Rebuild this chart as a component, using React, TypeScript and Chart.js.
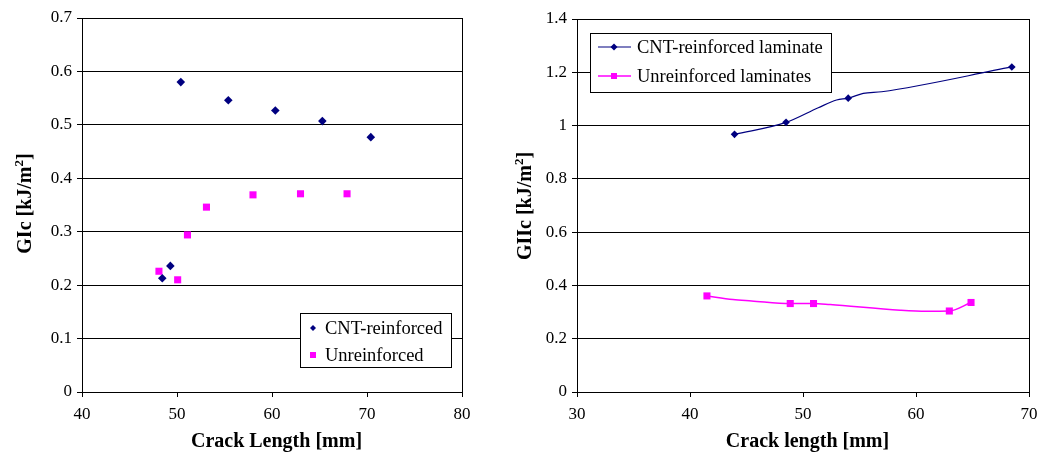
import React, { useEffect, useRef } from "react";
import { Chart, registerables } from "chart.js";

Chart.register(...registerables);

const FONT = "'Liberation Serif', 'Times New Roman', Times, serif";
const NAVY = "#000080";
const MAGENTA = "#FF00FF";

// Left chart (Mode I)
const leftCntLabel = "CNT-reinforced";
const leftCntX = [50.4, 55.4, 60.35, 65.3, 70.4, 49.3, 48.45];
const leftCntY = [0.58, 0.546, 0.527, 0.507, 0.477, 0.236, 0.213];
const leftUnrLabel = "Unreinforced";
const leftUnrX = [48.1, 50.07, 51.1, 53.1, 58.0, 63.0, 67.9];
const leftUnrY = [0.226, 0.21, 0.294, 0.346, 0.369, 0.371, 0.371];
const leftXTitle = "Crack Length [mm]";
const leftYTitle = ["GIc [kJ/m", "2", "]"];

// Right chart (Mode II)
const rightCntLabel = "CNT-reinforced laminate";
const rightCntX = [43.94, 48.5, 54.0, 68.48];
const rightCntY = [0.967, 1.012, 1.103, 1.22];
const rightCntCurveX = [43.94, 48.5, 51.35, 52.97, 54.0, 55.33, 56.96, 68.48];
const rightCntCurveY = [0.967, 1.012, 1.067, 1.096, 1.103, 1.121, 1.127, 1.22];
const rightUnrLabel = "Unreinforced laminates";
const rightUnrX = [41.5, 48.87, 50.93, 62.95, 64.87];
const rightUnrY = [0.3606, 0.332, 0.332, 0.304, 0.336];
const rightUnrCurveX = [41.5, 43.8, 45.45, 48.87, 50.93, 52.4, 58.6, 60.9, 62.95, 64.87];
const rightUnrCurveY = [0.3606, 0.347, 0.342, 0.332, 0.332, 0.328, 0.307, 0.303, 0.304, 0.336];
const rightXTitle = "Crack length [mm]";
const rightYTitle = ["GIIc [kJ/m", "2", "]"];

const pts = (xs: number[], ys: number[]) => xs.map((x, i) => ({ x, y: ys[i] }));

const fmt = (v: any) => String(Math.round(Number(v) * 10) / 10);

const framePlugin = {
  id: "frame",
  beforeDatasetsDraw(chart: any) {
    const { ctx, chartArea } = chart;
    const l = Math.round(chartArea.left) + 0.5;
    const t = Math.round(chartArea.top) + 0.5;
    const r = Math.round(chartArea.right) + 0.5;
    const b = Math.round(chartArea.bottom) + 0.5;
    ctx.save();
    ctx.strokeStyle = "#000";
    ctx.lineWidth = 1;
    ctx.strokeRect(l, t, r - l, b - t);
    ctx.restore();
  },
};

function titlesPlugin(xTitle: string, xCenter: number, xBaseline: number, yParts: string[], yBaselineX: number, yCenter: number) {
  return {
    id: "axisTitles",
    afterDraw(chart: any) {
      const ctx: CanvasRenderingContext2D = chart.ctx;
      ctx.save();
      ctx.fillStyle = "#000";
      ctx.textBaseline = "alphabetic";
      ctx.font = `bold 20px ${FONT}`;
      ctx.textAlign = "center";
      ctx.fillText(xTitle, xCenter, xBaseline);

      ctx.textAlign = "left";
      const mainFont = `bold 20px ${FONT}`;
      const supFont = `bold 13px ${FONT}`;
      ctx.font = mainFont;
      const w0 = ctx.measureText(yParts[0]).width;
      const w2 = ctx.measureText(yParts[2]).width;
      ctx.font = supFont;
      const w1 = ctx.measureText(yParts[1]).width;
      const total = w0 + w1 + w2;
      ctx.translate(yBaselineX, yCenter);
      ctx.rotate(-Math.PI / 2);
      let x = -total / 2;
      ctx.font = mainFont;
      ctx.fillText(yParts[0], x, 0);
      x += w0;
      ctx.font = supFont;
      ctx.fillText(yParts[1], x, -8);
      x += w1;
      ctx.font = mainFont;
      ctx.fillText(yParts[2], x, 0);
      ctx.restore();
    },
  };
}

function drawMarker(ctx: CanvasRenderingContext2D, shape: string, x: number, y: number, r: number, color: string) {
  ctx.fillStyle = color;
  ctx.beginPath();
  if (shape === "diamond") {
    ctx.moveTo(x - r, y);
    ctx.lineTo(x, y - r);
    ctx.lineTo(x + r, y);
    ctx.lineTo(x, y + r);
    ctx.closePath();
  } else {
    ctx.rect(x - r, y - r, 2 * r, 2 * r);
  }
  ctx.fill();
}

type LegendItem = { text: string; shape: string; color: string; r: number; line: boolean; lineWidth: number };

function legendPlugin(box: { x: number; y: number; w: number; h: number }, rows: number[], markerX: number, textX: number, lineFrom: number, lineTo: number, items: LegendItem[]) {
  return {
    id: "customLegend",
    afterDraw(chart: any) {
      const ctx: CanvasRenderingContext2D = chart.ctx;
      ctx.save();
      ctx.fillStyle = "#fff";
      ctx.fillRect(box.x, box.y, box.w, box.h);
      ctx.strokeStyle = "#000";
      ctx.lineWidth = 1;
      ctx.strokeRect(box.x + 0.5, box.y + 0.5, box.w, box.h);
      items.forEach((it, i) => {
        const y = rows[i];
        if (it.line) {
          ctx.strokeStyle = it.color;
          ctx.lineWidth = it.lineWidth;
          ctx.beginPath();
          ctx.moveTo(lineFrom, y);
          ctx.lineTo(lineTo, y);
          ctx.stroke();
        }
        drawMarker(ctx, it.shape, markerX, y, it.r, it.color);
        ctx.fillStyle = "#000";
        ctx.font = `18.5px ${FONT}`;
        ctx.textBaseline = "middle";
        ctx.textAlign = "left";
        ctx.fillText(it.text, textX, y + 1);
      });
      ctx.restore();
    },
  };
}

function axisCommon(min: number, max: number, step: number, horizontal: boolean, size: number) {
  return {
    type: "linear",
    min,
    max,
    afterFit: (s: any) => {
      if (horizontal) s.height = size;
      else s.width = size;
    },
    ticks: {
      stepSize: step,
      font: { family: FONT, size: 17 },
      color: "#000",
      padding: horizontal ? 7 : 5,
      maxRotation: 0,
      autoSkip: false,
      callback: fmt,
    },
    grid: {
      drawOnChartArea: !horizontal,
      drawTicks: true,
      tickLength: 5,
      color: "#000",
      lineWidth: 1,
    },
    border: { display: true, color: "#000", width: 1 },
    title: { display: false },
  };
}

function makeLeft(canvas: HTMLCanvasElement) {
  return new Chart(canvas, {
    type: "scatter",
    data: {
      datasets: [
        {
          label: leftCntLabel,
          data: pts(leftCntX, leftCntY),
          pointStyle: "rectRot",
          pointRadius: 4.3,
          backgroundColor: NAVY,
          borderColor: NAVY,
          borderWidth: 0,
        },
        {
          label: leftUnrLabel,
          data: pts(leftUnrX, leftUnrY),
          pointStyle: "rect",
          pointRadius: 5,
          backgroundColor: MAGENTA,
          borderColor: MAGENTA,
          borderWidth: 0,
        },
      ],
    } as any,
    options: {
      responsive: false,
      animation: false,
      layout: { padding: { left: 0, right: 53, top: 18, bottom: 0 } },
      plugins: { legend: { display: false }, tooltip: { enabled: false } },
      scales: {
        x: axisCommon(40, 80, 10, true, 60),
        y: axisCommon(0, 0.7, 0.1, false, 82),
      },
    } as any,
    plugins: [
      framePlugin,
      titlesPlugin(leftXTitle, 276.5, 446.5, leftYTitle, 30.5, 203.5),
      legendPlugin({ x: 300, y: 313, w: 151, h: 54 }, [328, 355], 313, 325, 0, 0, [
        { text: leftCntLabel, shape: "diamond", color: NAVY, r: 3, line: false, lineWidth: 1 },
        { text: leftUnrLabel, shape: "square", color: MAGENTA, r: 3, line: false, lineWidth: 1 },
      ]),
    ] as any,
  });
}

function makeRight(canvas: HTMLCanvasElement) {
  return new Chart(canvas, {
    type: "scatter",
    data: {
      datasets: [
        {
          label: rightCntLabel + " curve",
          data: pts(rightCntCurveX, rightCntCurveY),
          showLine: true,
          pointRadius: 0,
          borderColor: NAVY,
          borderWidth: 1.2,
          cubicInterpolationMode: "monotone",
        },
        {
          label: rightCntLabel,
          data: pts(rightCntX, rightCntY),
          showLine: false,
          pointStyle: "rectRot",
          pointRadius: 3.8,
          backgroundColor: NAVY,
          borderColor: NAVY,
          borderWidth: 0,
        },
        {
          label: rightUnrLabel + " curve",
          data: pts(rightUnrCurveX, rightUnrCurveY),
          showLine: true,
          pointRadius: 0,
          borderColor: MAGENTA,
          borderWidth: 1.5,
          cubicInterpolationMode: "monotone",
        },
        {
          label: rightUnrLabel,
          data: pts(rightUnrX, rightUnrY),
          showLine: false,
          pointStyle: "rect",
          pointRadius: 5,
          backgroundColor: MAGENTA,
          borderColor: MAGENTA,
          borderWidth: 0,
        },
      ],
    } as any,
    options: {
      responsive: false,
      animation: false,
      layout: { padding: { left: 0, right: 23, top: 19, bottom: 0 } },
      plugins: { legend: { display: false }, tooltip: { enabled: false } },
      scales: {
        x: axisCommon(30, 70, 10, true, 60),
        y: axisCommon(0, 1.4, 0.2, false, 65),
      },
    } as any,
    plugins: [
      framePlugin,
      titlesPlugin(rightXTitle, 295.5, 446.5, rightYTitle, 18.5, 206),
      legendPlugin({ x: 78, y: 33, w: 241, h: 59 }, [47, 76], 102, 125, 86, 119, [
        { text: rightCntLabel, shape: "diamond", color: NAVY, r: 3.5, line: true, lineWidth: 1.2 },
        { text: rightUnrLabel, shape: "square", color: MAGENTA, r: 3, line: true, lineWidth: 1.5 },
      ]),
    ] as any,
  });
}

export default function App() {
  const leftRef = useRef<HTMLCanvasElement>(null);
  const rightRef = useRef<HTMLCanvasElement>(null);

  useEffect(() => {
    const a = makeLeft(leftRef.current!);
    const b = makeRight(rightRef.current!);
    return () => {
      a.destroy();
      b.destroy();
    };
  }, []);

  return (
    <div style={{ position: "absolute", left: 0, top: 0, width: 1040, height: 452, background: "#fff", overflow: "hidden" }}>
      <canvas ref={leftRef} width={515} height={452} style={{ position: "absolute", left: 0, top: 0 }} />
      <canvas ref={rightRef} width={540} height={452} style={{ position: "absolute", left: 512, top: 0 }} />
    </div>
  );
}
